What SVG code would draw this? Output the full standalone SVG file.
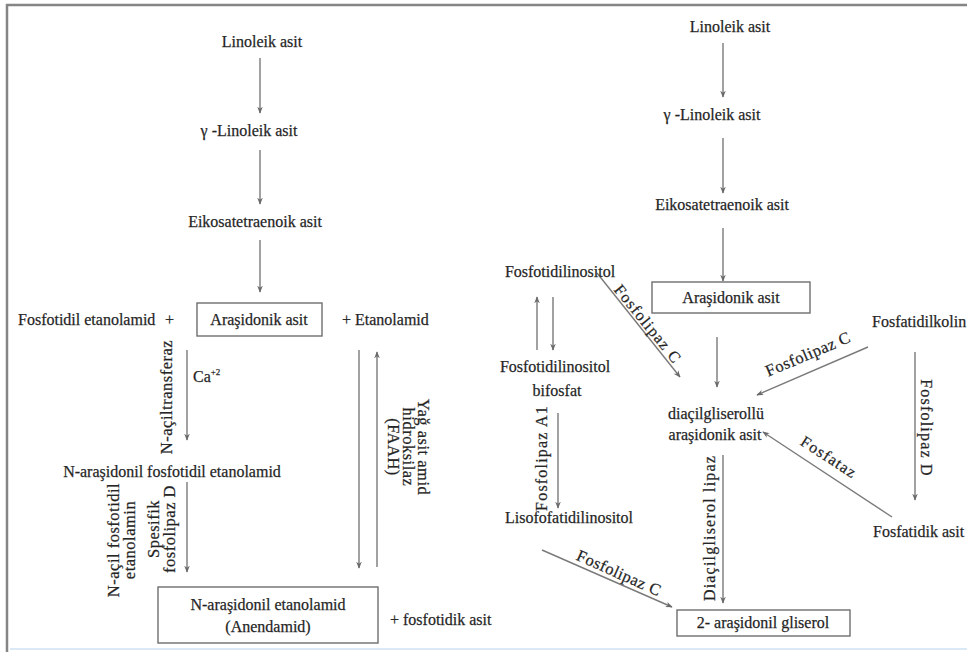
<svg xmlns="http://www.w3.org/2000/svg" width="967" height="652" viewBox="0 0 967 652">
<style>
text{font-family:"Liberation Serif","Times New Roman",serif;fill:#222;stroke:#333;stroke-width:0.25;}
.n{font-size:16px;text-anchor:middle;}
.s{font-size:16px;}
.l{font-size:16.5px;letter-spacing:0.5px;text-anchor:middle;dominant-baseline:central;}
.r{font-size:16px;letter-spacing:1.2px;}
.c{stroke:#7a7a7a;stroke-width:1.4;fill:none;}
.a{marker-end:url(#ah);}
.box{fill:#fff;stroke:#6e6e6e;stroke-width:1.4;}
</style>
<defs>
<marker id="ah" viewBox="0 0 10 10" refX="9" refY="5" markerWidth="7" markerHeight="7" markerUnits="userSpaceOnUse" orient="auto">
<path d="M0,1 L10,5 L0,9 L3,5 z" fill="#6a6a6a"/>
</marker>
</defs>
<rect x="0" y="0" width="967" height="652" fill="#fff"/>
<g id="frame">
<line x1="6" y1="5" x2="967" y2="5" stroke="#858585" stroke-width="2.5"/>
<line x1="7" y1="4" x2="7" y2="652" stroke="#858585" stroke-width="2.5"/>
<line x1="10" y1="649" x2="967" y2="649" stroke="#dbe8f5" stroke-width="2"/>
</g>
<g id="connectors">
<line class="c a" x1="260" y1="58" x2="260" y2="113"/>
<line class="c a" x1="260" y1="150" x2="260" y2="204"/>
<line class="c a" x1="260" y1="240" x2="260" y2="292"/>
<line class="c a" x1="187" y1="350" x2="187" y2="440"/>
<line class="c a" x1="359" y1="350" x2="359" y2="568"/>
<line class="c a" x1="377" y1="567" x2="377" y2="352"/>
<line class="c a" x1="187" y1="482" x2="187" y2="572"/>
<line class="c a" x1="723" y1="43" x2="723" y2="97"/>
<line class="c a" x1="723" y1="138" x2="723" y2="193"/>
<line class="c a" x1="723" y1="228" x2="723" y2="281"/>
<line class="c a" x1="537" y1="350" x2="537" y2="297"/>
<line class="c a" x1="553" y1="297" x2="553" y2="350"/>
<line class="c a" x1="597" y1="273" x2="680" y2="377"/>
<line class="c a" x1="717" y1="337" x2="717" y2="387"/>
<line class="c a" x1="868" y1="347" x2="757" y2="395"/>
<line class="c a" x1="915" y1="352" x2="915" y2="500"/>
<line class="c a" x1="892" y1="517" x2="763" y2="432"/>
<line class="c a" x1="558" y1="413" x2="558" y2="508"/>
<line class="c a" x1="542" y1="550" x2="672" y2="607"/>
<line class="c a" x1="723" y1="455" x2="723" y2="603"/>
</g>
<g id="labels">
<text class="l" transform="translate(166,397) rotate(-90)">N-açiltransferaz</text>
<text class="s" x="193" y="382">Ca<tspan font-size="9" dy="-7">+2</tspan></text>
<g transform="translate(408,447) rotate(90)">
<text class="l" x="0" y="-15">Yağ asit amid</text>
<text class="l" x="0" y="0">hidroksilaz</text>
<text class="l" x="0" y="15">(FAAH)</text>
</g>
<g transform="translate(121,540) rotate(-90)">
<text class="l" x="0" y="-8">N-açil fosfotidil</text>
<text class="l" x="0" y="8">etanolamin</text>
</g>
<g transform="translate(161,529) rotate(-90)">
<text class="l" x="0" y="-8">Spesifik</text>
<text class="l" x="0" y="8">fosfolipaz D</text>
</g>
<text class="l r" transform="translate(648,324) rotate(51)">Fosfolipaz C</text>
<text class="l" transform="translate(808,354) rotate(-23)">Fosfolipaz C</text>
<text class="l r" transform="translate(926,428) rotate(90)">Fosfolipaz D</text>
<text class="l r" transform="translate(829,457) rotate(33)">Fosfataz</text>
<text class="l r" transform="translate(541,458) rotate(-90)">Fosfolipaz A1</text>
<text class="l" transform="translate(619,573) rotate(24)">Fosfolipaz C</text>
<text class="l r" transform="translate(709,528) rotate(-90)">Diaçilgliserol lipaz</text>
</g>
<g id="n-linoleik-l"><text class="n" x="262" y="47">Linoleik asit</text></g>
<g id="n-glinoleik-l"><text class="n" x="249" y="136">γ -Linoleik asit</text></g>
<g id="n-eikosa-l"><text class="n" x="255" y="227">Eikosatetraenoik asit</text></g>
<g id="n-arasidonik-l"><rect class="box" x="197" y="303" width="125" height="33"/><text class="n" x="259" y="325">Araşidonik asit</text></g>
<g id="n-fosfotidil-et"><text class="s" x="18" y="325">Fosfotidil etanolamid</text><text class="s" x="165" y="325">+</text></g>
<g id="n-etanolamid"><text class="s" x="342" y="325">+ Etanolamid</text></g>
<g id="n-narfe"><text class="n" x="172" y="477">N-araşidonil fosfotidil etanolamid</text></g>
<g id="n-anendamid"><rect class="box" x="158" y="587" width="220" height="56"/><text class="n" x="268" y="610">N-araşidonil etanolamid</text><text class="n" x="268" y="632">(Anendamid)</text></g>
<g id="n-fosfotidik"><text class="s" x="390" y="625">+ fosfotidik asit</text></g>
<g id="n-linoleik-r"><text class="n" x="730" y="32">Linoleik asit</text></g>
<g id="n-glinoleik-r"><text class="n" x="712" y="120">γ -Linoleik asit</text></g>
<g id="n-eikosa-r"><text class="n" x="722" y="210">Eikosatetraenoik asit</text></g>
<g id="n-arasidonik-r"><rect class="box" x="652" y="282" width="158" height="31"/><text class="n" x="731" y="303">Araşidonik asit</text></g>
<g id="n-fosfotidilinositol"><text class="n" x="560" y="277">Fosfotidilinositol</text></g>
<g id="n-bifosfat"><text class="n" x="555" y="372">Fosfotidilinositol</text><text class="n" x="557" y="396">bifosfat</text></g>
<g id="n-fosfatidilkolin"><text class="s" x="872" y="327">Fosfatidilkolin</text></g>
<g id="n-diacil"><text class="n" x="716" y="419">diaçilgliserollü</text><text class="n" x="715" y="440">araşidonik asit</text></g>
<g id="n-fosfatidik"><text class="s" x="873" y="537">Fosfatidik asit</text></g>
<g id="n-liso"><text class="n" x="569" y="523">Lisofofatidilinositol</text></g>
<g id="n-2ag"><rect class="box" x="677" y="610" width="173" height="26"/><text class="n" x="763" y="628">2- araşidonil gliserol</text></g>
</svg>
